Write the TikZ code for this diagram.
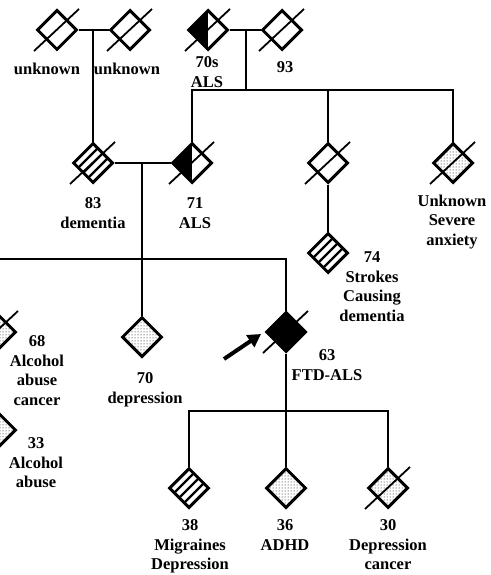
\documentclass[tikz,border=0pt]{standalone}
\usepackage{fontspec}
\setmainfont{Liberation Serif}
\usetikzlibrary{shapes.geometric,patterns,arrows.meta}
\begin{document}
\begin{tikzpicture}[x=1pt,y=-1pt,
  ind/.style={diamond,draw,line width=3pt,inner sep=0pt,minimum width=40pt,minimum height=40pt,aspect=1},
  conn/.style={line width=2.8pt},
  slash/.style={line width=1.8pt},
  halfblack/.style={path picture={\fill (path picture bounding box.north west) rectangle (path picture bounding box.south);}},
  striped/.style={path picture={\draw[line width=2.4pt,shift={(path picture bounding box.center)}] (-30,20)--(30,-40) (-30,30)--(30,-30) (-30,40)--(30,-20);}},
  lbl/.style={font=\fontsize{16.5}{19.5}\selectfont\bfseries,align=center,inner sep=0pt,anchor=north},
]
\useasboundingbox (0,0) rectangle (490,575);
\fill[white] (0,0) rectangle (490,575);
\clip (0,0) rectangle (490,575);

% individuals
\node[ind] (A) at (57,30) {};
\node[ind] (B) at (130,30) {};
\node[ind,halfblack] (C) at (208,30) {};
\node[ind] (D) at (282,30) {};
\node[ind,striped] (E) at (93,163) {};
\node[ind,halfblack] (F) at (192,163) {};
\node[ind] (G) at (328,163) {};
\node[ind,pattern=dots] (K) at (453,163) {};
\node[ind,striped] (H) at (328,253) {};
\node[ind,pattern=dots] (P68) at (-4,332) {};
\node[ind,pattern=dots] (P33) at (-4,430) {};
\node[ind,pattern=dots] (P70) at (142,337) {};
\node[ind,fill=black] (PB) at (286,332) {};
\node[ind,striped] (C38) at (189,488) {};
\node[ind,pattern=dots] (C36) at (286,488) {};
\node[ind,pattern=dots] (C30) at (388,488) {};

% deceased slashes
\foreach \n in {A,B,C,D,E,F,G,K,P68,PB,C30}
  \draw[slash] ([shift={(-23,21)}]\n.center) -- ([shift={(22,-21)}]\n.center);

% connectors
\coordinate (mAB) at (93,30);
\coordinate (mCD) at (246,30);
\coordinate (sCD) at (246,90);
\coordinate (mEF) at (142,163);
\coordinate (sEF) at (142,259);
\coordinate (sK) at (286,411);
\draw[conn] (A) -- (B);
\draw[conn] (mAB) -- (E.north);
\draw[conn] (C) -- (D);
\draw[conn] (mCD) -- (sCD);
\draw[conn] (F.north) |- (sCD) -| (K.north);
\draw[conn] (G.north) -- (G.north |- sCD);
\draw[conn] (G) -- (H);
\draw[conn] (E) -- (F);
\draw[conn] (mEF) -- (sEF);
\draw[conn] (P68.north) |- (PB.north |- sEF) -- (PB.north);
\draw[conn] (P70.north) -- (P70.north |- sEF);
\draw[conn] (PB.south) -- (C36.north);
\draw[conn] (C38.north) |- (sK) -| (C30.north);

% proband arrow
\coordinate (arrTail) at (224,359);
\coordinate (arrHead) at (261,334);
\draw[line width=4pt,-{Triangle[length=13pt,width=14pt]}] (arrTail) -- (arrHead);

% labels
\node[lbl] (lA) at (47,63) {unknown};
\node[lbl] (lB) at (127,63) {unknown};
\node[lbl] (lC) at (207,56.5) {70s\\ALS};
\node[lbl] (lD) at (285,61.5) {93};
\node[lbl] (lE) at (93,197.5) {83\\dementia};
\node[lbl] (lF) at (195,197.5) {71\\ALS};
\node[lbl] (lK) at (452,194.5) {Unknown\\Severe\\anxiety};
\node[lbl] (lH) at (372,251.5) {74\\Strokes\\Causing\\dementia};
\node[lbl] (l68) at (37,335.5) {68\\Alcohol\\abuse\\cancer};
\node[lbl] (l33) at (36,437.5) {33\\Alcohol\\abuse};
\node[lbl] (l70) at (145,372.5) {70\\depression};
\node[lbl] (lPB) at (327,349.5) {63\\FTD-ALS};
\node[lbl] (l38) at (190,519.5) {38\\Migraines\\Depression};
\node[lbl] (l36) at (285,519.5) {36\\ADHD};
\node[lbl] (l30) at (388,519.5) {30\\Depression\\cancer};
\end{tikzpicture}
\end{document}
